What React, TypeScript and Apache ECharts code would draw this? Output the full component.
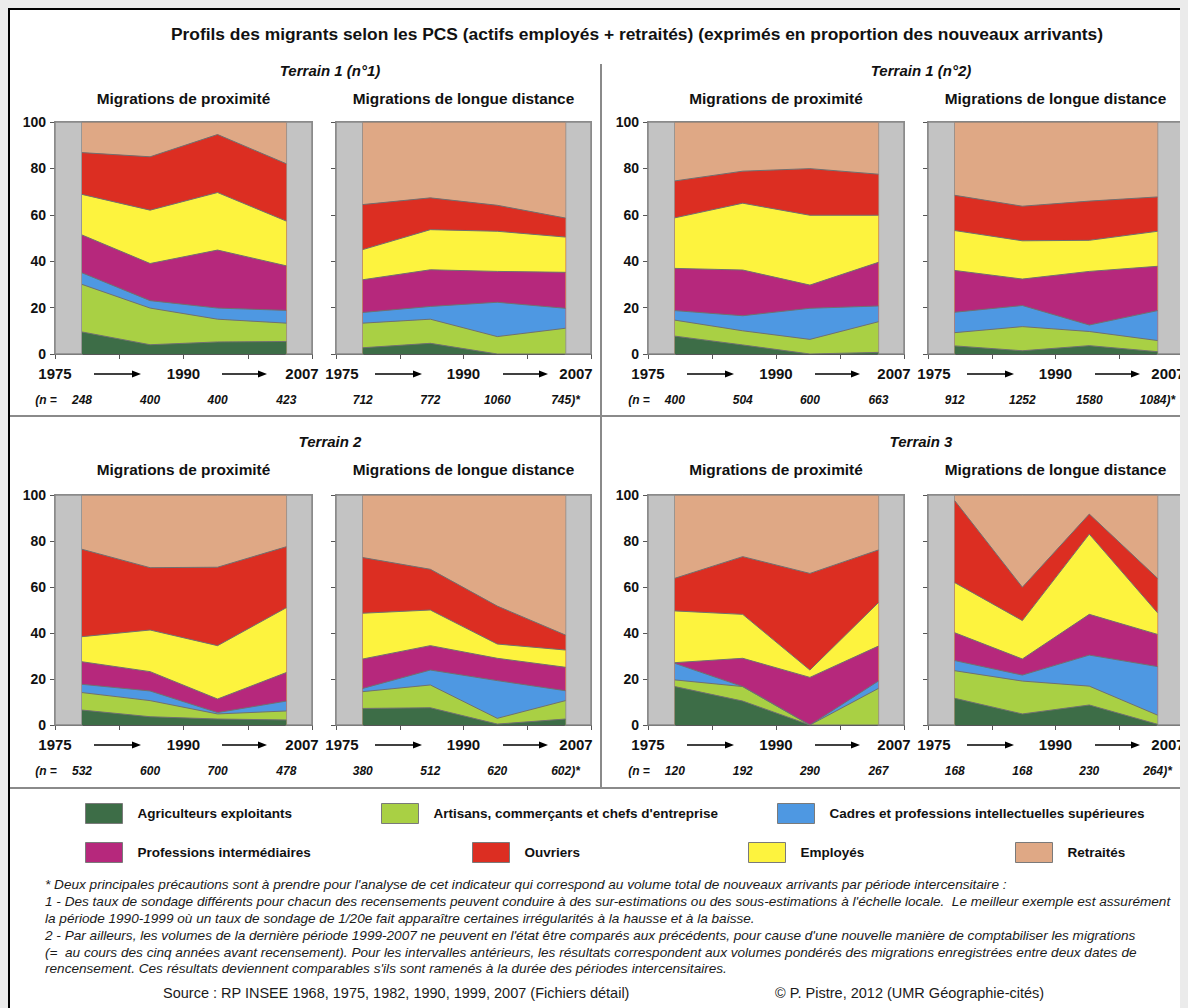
import React, { useEffect, useRef } from "react";
import * as echarts from "echarts";

// ---------- DATA ----------
const categories = [
  "Agriculteurs exploitants",
  "Artisans, commerçants et chefs d'entreprise",
  "Cadres et professions intellectuelles supérieures",
  "Professions intermédiaires",
  "Employés",
  "Ouvriers",
  "Retraités",
];
const categoryColors = ["#3d6d47", "#a9d044", "#4e98e2", "#b6287c", "#fdf33e", "#dc2e22", "#dfa885"];

// x positions of the four intercensal periods on the 1975 → 2007 axis (axis runs 0..4)
const periodPositions = [0.42, 1.48, 2.53, 3.6];
const yearTickValues = [0, 2, 4];
const yearLabels = ["1975", "1990", "2007"];

// rows: Agriculteurs, Artisans, Cadres, Prof. interm., Employés, Ouvriers, Retraités (in %)
const terrain1n1Proximite = [
  [9.5, 4, 5.2, 5.4],
  [20.5, 15.8, 9.8, 7.9],
  [5, 3.2, 4.8, 5.5],
  [16.3, 16, 25, 19.2],
  [17.5, 23, 24.8, 19.3],
  [18, 23, 25, 24.7],
  [13.2, 15, 5.4, 18],
];
const terrain1n1Longue = [
  [2.7, 4.6, 0, 0],
  [10.6, 10.4, 7.5, 11.1],
  [4.6, 5.5, 14.8, 8.6],
  [14.1, 15.8, 13.3, 15.5],
  [13, 17.3, 17.3, 15.2],
  [19.4, 13.7, 11.2, 8.2],
  [35.6, 32.7, 35.9, 41.4],
];
const terrain1n2Proximite = [
  [7.7, 3.9, 0, 0.7],
  [6.9, 6.1, 6.3, 13.2],
  [4.1, 6.5, 13.4, 6.8],
  [18.2, 19.7, 10, 18.8],
  [21.8, 28.8, 30.1, 20.3],
  [15.9, 13.8, 20.1, 17.7],
  [25.4, 21.2, 20.1, 22.5],
];
const terrain1n2Longue = [
  [3.5, 1.4, 3.6, 1],
  [5.7, 10.4, 6.1, 4.8],
  [8.8, 9.1, 2.8, 12.9],
  [18, 11.4, 23.1, 19.1],
  [17.2, 16.5, 13.4, 15.1],
  [15.2, 14.9, 16.9, 14.8],
  [31.6, 36.3, 34.1, 32.3],
];
const terrain2Proximite = [
  [6.5, 3.6, 2.6, 2.2],
  [7.6, 7, 2.2, 3.9],
  [3.6, 4.2, 0.6, 4.3],
  [9.8, 8.4, 5.9, 12.4],
  [10.9, 18.1, 23.2, 28.2],
  [38, 27.1, 34.1, 26.5],
  [23.6, 31.6, 31.4, 22.5],
];
const terrain2Longue = [
  [7.2, 7.5, 0.4, 2.6],
  [7.3, 9.9, 2.5, 8],
  [1.4, 6.5, 16.4, 4.3],
  [12.8, 10.6, 9.7, 10.2],
  [19.9, 15.5, 6.2, 7.5],
  [24.2, 17.7, 16.5, 6.5],
  [27.2, 32.3, 48.3, 60.9],
];
const terrain3Proximite = [
  [16.7, 10.4, 0, 0],
  [2.9, 6.3, 0, 15.9],
  [7.2, 0, 0, 3.2],
  [0.3, 12.3, 20.7, 15.2],
  [22.5, 19.1, 3.2, 18.9],
  [14.2, 25.1, 42, 22.9],
  [36.2, 26.8, 34.1, 23.9],
];
const terrain3Longue = [
  [11.6, 4.8, 8.7, 0.3],
  [12, 14.3, 8.2, 4],
  [4.4, 2.6, 13.5, 21.1],
  [12.1, 7, 17.7, 14],
  [21.8, 16.7, 34.9, 9.4],
  [35.6, 14.5, 8.7, 15],
  [2.5, 40.1, 8.3, 36.2],
];

const nTerrain1n1Proximite = ["248", "400", "400", "423"];
const nTerrain1n1Longue = ["712", "772", "1060", "745)*"];
const nTerrain1n2Proximite = ["400", "504", "600", "663"];
const nTerrain1n2Longue = ["912", "1252", "1580", "1084)*"];
const nTerrain2Proximite = ["532", "600", "700", "478"];
const nTerrain2Longue = ["380", "512", "620", "602)*"];
const nTerrain3Proximite = ["120", "192", "290", "267"];
const nTerrain3Longue = ["168", "168", "230", "264)*"];

const mainTitle =
  "Profils des migrants selon les PCS (actifs employés + retraités) (exprimés en proportion des nouveaux arrivants)";
const sectionTitles = ["Terrain 1 (n°1)", "Terrain 1 (n°2)", "Terrain 2", "Terrain 3"];
const panelTitles = ["Migrations de proximité", "Migrations de longue distance"];
const nPrefix = "(n =";

const notesLines = [
  "* Deux principales précautions sont à prendre pour l'analyse de cet indicateur qui correspond au volume total de nouveaux arrivants par période intercensitaire :",
  "1 - Des taux de sondage différents pour chacun des recensements peuvent conduire à des sur-estimations ou des sous-estimations à l'échelle locale.  Le meilleur exemple est assurément",
  "la période 1990-1999 où un taux de sondage de 1/20e fait apparaître certaines irrégularités à la hausse et à la baisse.",
  "2 - Par ailleurs, les volumes de la dernière période 1999-2007 ne peuvent en l'état être comparés aux précédents, pour cause d'une nouvelle manière de comptabiliser les migrations",
  "(=  au cours des cinq années avant recensement). Pour les intervalles antérieurs, les résultats correspondent aux volumes pondérés des migrations enregistrées entre deux dates de",
  "rencensement. Ces résultats deviennent comparables s'ils sont ramenés à la durée des périodes intercensitaires.",
];
const sourceText = "Source : RP INSEE 1968, 1975, 1982, 1990, 1999, 2007 (Fichiers détail)";
const creditText = "© P. Pistre, 2012 (UMR Géographie-cités)";

// ---------- LAYOUT ----------
const FONT = '"Liberation Sans", Arial, Helvetica, sans-serif';
const W = 1180;
const H = 1000;
const colLeft = [47, 328, 640, 920];
const colWidth = [257, 255, 256, 255];
const rowTop = [114, 487];
const rowHeight = [232, 230];
const panelTitleY = [90, 461];
const sectionTitleY = [62, 433];
const sectionTitleX = [322, 913];
const legendPos = [
  { left: 77, top: 795 },
  { left: 373, top: 795 },
  { left: 769, top: 795 },
  { left: 77, top: 834 },
  { left: 740, top: 834 },
  { left: 464, top: 834 },
  { left: 1007, top: 834 },
];

function buildOption() {
  const panels = [
    { values: terrain1n1Proximite, n: nTerrain1n1Proximite },
    { values: terrain1n1Longue, n: nTerrain1n1Longue },
    { values: terrain1n2Proximite, n: nTerrain1n2Proximite },
    { values: terrain1n2Longue, n: nTerrain1n2Longue },
    { values: terrain2Proximite, n: nTerrain2Proximite },
    { values: terrain2Longue, n: nTerrain2Longue },
    { values: terrain3Proximite, n: nTerrain3Proximite },
    { values: terrain3Longue, n: nTerrain3Longue },
  ];

  const grid: any[] = [];
  const xAxis: any[] = [];
  const yAxis: any[] = [];
  const series: any[] = [];
  const graphic: any[] = [];

  const txt = (text: string, x: number, y: number, size: number, opts: any = {}) => ({
    type: "text",
    silent: true,
    style: {
      text,
      x,
      y,
      fill: opts.fill || "#111",
      fontSize: size,
      fontWeight: opts.weight || "normal",
      fontStyle: opts.style || "normal",
      fontFamily: FONT,
      align: opts.align || "center",
      textAlign: opts.align || "center",
      verticalAlign: "middle",
      textVerticalAlign: "middle",
    },
  });

  // frame
  graphic.push({ type: "line", silent: true, shape: { x1: 0, y1: 1, x2: W, y2: 1 }, style: { stroke: "#000", lineWidth: 2 } });
  graphic.push({ type: "line", silent: true, shape: { x1: 1, y1: 0, x2: 1, y2: H }, style: { stroke: "#000", lineWidth: 2 } });
  graphic.push({ type: "line", silent: true, shape: { x1: 2, y1: 408, x2: W, y2: 408 }, style: { stroke: "#8a8a8a", lineWidth: 2 } });
  graphic.push({ type: "line", silent: true, shape: { x1: 2, y1: 780, x2: W, y2: 780 }, style: { stroke: "#8a8a8a", lineWidth: 2 } });
  graphic.push({ type: "line", silent: true, shape: { x1: 593, y1: 56, x2: 593, y2: 780 }, style: { stroke: "#8a8a8a", lineWidth: 2 } });

  graphic.push(txt(mainTitle, 629, 26, 17.4, { weight: "bold" }));
  sectionTitles.forEach((t, s) => {
    graphic.push(txt(t, sectionTitleX[s % 2], sectionTitleY[Math.floor(s / 2)], 15, { weight: "bold", style: "italic" }));
  });

  panels.forEach((p, i) => {
    const row = i < 4 ? 0 : 1;
    const col = i % 4;
    const rightCol = col % 2 === 1;
    const left = colLeft[col];
    const width = colWidth[col];
    const top = rowTop[row];
    const height = rowHeight[row];
    const axisY = top + height;

    grid.push({
      left,
      top,
      width,
      height,
      show: true,
      borderColor: "#8c8c8c",
      borderWidth: 2,
      backgroundColor: "transparent",
      containLabel: false,
      outerBoundsMode: "none",
    });

    const labelStyle = { fontSize: 15, fontWeight: "bold", color: "#111", fontFamily: FONT };
    xAxis.push({
      type: "value",
      gridIndex: i,
      min: 0,
      max: 4,
      interval: 1,
      position: "bottom",
      axisLine: { show: true, onZero: false, lineStyle: { color: "#555", width: 1 } },
      axisTick: { show: true, length: 5, lineStyle: { color: "#555" } },
      splitLine: { show: false },
      axisLabel: {
        show: true,
        showMinLabel: true,
        showMaxLabel: true,
        margin: 12,
        ...labelStyle,
        formatter: (v: number) => {
          const k = yearTickValues.indexOf(Math.round(v * 1000) / 1000);
          if (k < 0) return "";
          const lbl = yearLabels[k];
          if (k === 0) return rightCol ? `{sr|${lbl}}` : `{c|${lbl}}`;
          if (k === yearLabels.length - 1) return rightCol ? `{sl2|${lbl}}` : `{sl|${lbl}}`;
          return `{c|${lbl}}`;
        },
        rich: {
          c: { ...labelStyle },
          sr: { ...labelStyle, padding: [0, 0, 0, 12] },
          sl: { ...labelStyle, padding: [0, 20, 0, 0] },
          sl2: { ...labelStyle, padding: [0, 30, 0, 0] },
        },
      },
    });
    xAxis.push({
      type: "value",
      gridIndex: i,
      min: 0,
      max: 4,
      position: "bottom",
      offset: 0,
      axisLine: { show: false, onZero: false },
      axisTick: { show: false },
      splitLine: { show: false },
      axisLabel: {
        show: true,
        customValues: periodPositions,
        showMinLabel: true,
        showMaxLabel: true,
        margin: 40,
        fontSize: 12,
        fontWeight: "bold",
        fontStyle: "italic",
        color: "#111",
        fontFamily: FONT,
        formatter: (v: number, idx: number) => {
          let k = periodPositions.indexOf(v);
          if (k < 0) k = idx;
          return p.n[k] ?? "";
        },
      },
    });
    yAxis.push({
      type: "value",
      gridIndex: i,
      min: 0,
      max: 100,
      interval: 20,
      axisLine: { show: true, lineStyle: { color: "#555", width: 1 } },
      axisTick: { show: true, length: 5, lineStyle: { color: "#555" } },
      splitLine: { show: false },
      axisLabel: {
        show: !rightCol,
        fontSize: 14,
        fontWeight: "bold",
        color: "#111",
        fontFamily: FONT,
        margin: 9,
      },
    });

    // cumulative shares (stacked from the bottom category upwards)
    const cumulative = categories.map((_, c) =>
      periodPositions.map((_, k) => {
        let s = 0;
        for (let j = 0; j <= c; j++) s += p.values[j][k];
        return Math.round(s * 100) / 100;
      })
    );

    // draw from the top layer down so that lower layers cover upper ones
    for (let c = categories.length - 1; c >= 0; c--) {
      const s: any = {
        type: "line",
        name: categories[c],
        xAxisIndex: i * 2,
        yAxisIndex: i,
        symbol: "none",
        silent: true,
        data: periodPositions.map((x, k) => [x, cumulative[c][k]]),
        lineStyle: { color: "#707070", width: 1 },
        itemStyle: { color: categoryColors[c] },
        areaStyle: { color: categoryColors[c], opacity: 1, origin: "start" },
        z: 3,
      };
      if (c === categories.length - 1) {
        s.markArea = {
          silent: true,
          label: { show: false },
          itemStyle: { color: "#c3c3c3", borderColor: "#8a8a8a", borderWidth: 1.5 },
          data: [
            [{ xAxis: 0 }, { xAxis: periodPositions[0] }],
            [{ xAxis: periodPositions[periodPositions.length - 1] }, { xAxis: 4 }],
          ],
        };
      }
      series.push(s);
    }

    // panel title
    graphic.push(txt(panelTitles[col % 2], left + width / 2, panelTitleY[row], 15.4, { weight: "bold" }));
    // (n = prefix
    if (!rightCol) {
      graphic.push(txt(nPrefix, left - 9, axisY + 46, 12, { weight: "bold", style: "italic" }));
    }
    // arrows between years
    const arrowY = axisY + 20;
    [
      [39, 86],
      [167, 212],
    ].forEach(([a, b]) => {
      const x1 = left + a;
      const x2 = left + b;
      graphic.push({ type: "line", silent: true, shape: { x1, y1: arrowY, x2: x2 - 7, y2: arrowY }, style: { stroke: "#000", lineWidth: 1.6 } });
      graphic.push({
        type: "polygon",
        silent: true,
        shape: { points: [[x2, arrowY], [x2 - 9, arrowY - 3.6], [x2 - 9, arrowY + 3.6]] },
        style: { fill: "#000" },
      });
    });
  });

  // notes
  const noteY = [876, 893, 910, 927, 944, 960];
  notesLines.forEach((line, k) => {
    graphic.push(txt(line, 37, noteY[k], 13.6, { style: "italic", align: "left", fill: "#1a1a1a" }));
  });
  graphic.push(txt(sourceText, 155, 985, 14.5, { align: "left", fill: "#1a1a1a" }));
  graphic.push(txt(creditText, 767, 985, 14.5, { align: "left", fill: "#1a1a1a" }));

  const legend = categories.map((name, k) => ({
    data: [name],
    left: legendPos[k].left,
    top: legendPos[k].top,
    orient: "horizontal",
    icon: "rect",
    itemWidth: 37,
    itemHeight: 20,
    itemGap: 0,
    padding: 0,
    selectedMode: false,
    itemStyle: { borderColor: "#7a7a7a", borderWidth: 1 },
    textStyle: { fontSize: 13.5, fontWeight: "bold", color: "#111", fontFamily: FONT, padding: [0, 0, 0, 10] },
  }));

  return {
    animation: false,
    backgroundColor: "#ffffff",
    textStyle: { fontFamily: FONT },
    grid,
    xAxis,
    yAxis,
    series,
    legend,
    graphic,
  };
}

export default function App() {
  const ref = useRef<HTMLDivElement>(null);
  useEffect(() => {
    document.body.style.background = "#ebebeb";
    const chart = echarts.init(ref.current!, null, { renderer: "svg" });
    chart.setOption(buildOption() as any);
    return () => chart.dispose();
  }, []);
  return <div ref={ref} style={{ width: W, height: H, background: "#fff" }} />;
}
